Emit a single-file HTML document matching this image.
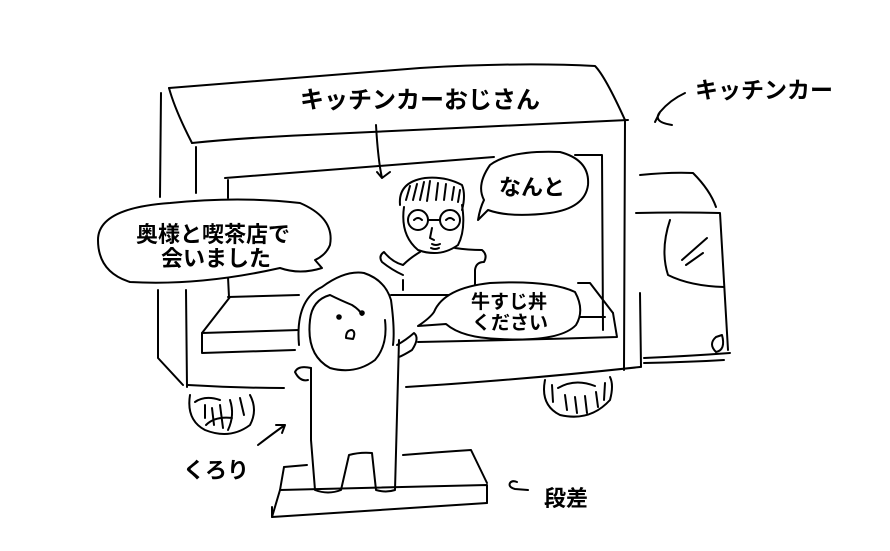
<!DOCTYPE html>
<html><head><meta charset="utf-8"><style>
html,body{margin:0;padding:0;background:#fff}
svg{display:block}
text{font-family:"Liberation Sans","Noto Sans CJK JP",sans-serif;font-weight:bold;fill:#000}
</style></head><body>
<svg width="890" height="551" viewBox="0 0 890 551" xmlns="http://www.w3.org/2000/svg">
<g fill="none" stroke="#000" stroke-width="2" stroke-linecap="round" stroke-linejoin="round">
<!-- roof -->
<path d="M169 88 Q300 78 420 68 Q520 62 595 66 Q605 76 625 120"/>
<path d="M169 88 Q175 110 192 143"/>
<path d="M192 143 Q240 138 307 135 Q470 127 628 120"/>
<!-- left verticals -->
<path d="M161 93 L160 197"/>
<path d="M158 290 L158 358 L183 385"/>
<path d="M196 147 L196 193"/>
<path d="M186 290 L187 387"/>
<!-- bottom -->
<path d="M188 385 Q240 388 284 388"/>
<path d="M406 387 Q520 380 640 367"/>
<path d="M625 120 L624 370"/>
<!-- inner window -->
<path d="M225 178 Q360 168 494 157"/>
<path d="M575 155 L602 155 L603 330"/>
<path d="M228 180 L228 198"/>
<path d="M228 277 L229 297"/>
<!-- counter -->
<path d="M228 297 L299 295"/>
<path d="M391 295 L449 295"/>
<path d="M230 297 L202 333 L299 330"/>
<path d="M418 342 Q520 340 617 337 L613 313"/>
<path d="M578 283 L590 283 L613 313"/>
<path d="M579 317 L605 317"/>
<path d="M202 333 L202 353 L295 350"/>
<!-- cab -->
<path d="M640 175 Q670 172 693 173 Q710 190 716 207"/>
<path d="M636 213 Q680 212 720 213 Q724 280 728 350"/>
<path d="M716 337 Q708 344 716 352 Q726 350 722 335 Z"/>
<path d="M644 358 Q690 356 730 353"/>
<path d="M644 363 Q690 362 724 360"/>
<path d="M640 293 L641 367"/>
<path d="M670 220 Q660 250 668 275 Q690 286 724 287"/>
<path d="M682 260 L707 238"/>
<path d="M686 265 L703 253"/>
<!-- wheels -->
<path d="M190 395 Q186 420 205 430 Q230 440 250 425 Q258 410 250 395"/>
<path d="M195 402 Q205 395 220 400 M205 405 L205 418 M212 408 L214 425 M220 405 L223 428 M230 400 Q235 415 228 430 M240 398 L244 415 M206 425 Q215 416 232 418"/>
<path d="M545 380 Q540 405 560 415 Q590 422 610 400 Q614 385 610 377"/>
<path d="M558 388 Q575 378 595 386 M552 385 L553 402 M565 395 L567 410 M575 397 L577 413 M585 396 L587 413 M596 392 L598 407 M605 383 L604 400"/>
<!-- man -->
<path d="M400 205 Q398 182 425 178 Q445 176 462 185 Q466 195 462 210"/>
<path d="M406 200 L410 186 M413 200 L417 184 M420 200 L424 182 M427 201 L430 181 M436 200 L438 183 M444 200 L446 184 M452 200 L454 187 M458 202 L460 190"/>
<path d="M404 207 Q400 235 418 250 Q440 258 458 245 Q466 230 462 205"/>
<circle cx="418" cy="220" r="10"/>
<circle cx="450" cy="220" r="10"/>
<path d="M428 220 L440 220"/>
<path d="M414 220 Q418 216 422 220 M446 220 Q450 216 454 220"/>
<path d="M432 228 L430 238 L434 240 M432 244 Q436 246 440 244 M431 248 Q435 250 439 248"/>
<path d="M420 252 Q410 258 403 265 Q392 262 384 252 Q378 256 382 262 Q392 270 403 275"/>
<path d="M403 280 L403 290"/>
<path d="M455 248 Q468 250 482 250 Q488 255 484 262 Q476 262 475 270 L475 290"/>
<!-- girl -->
<path fill="#fff" d="M311 368 L311 440 L315 490 Q328 495 341 490 L349 455 Q360 452 372 453 L376 490 Q386 493 395 490 L399 340 L393 345 Z" stroke="none"/>
<path fill="#fff" d="M299 345 Q295 300 322 287 Q345 270 364 273 Q385 280 391 300 Q395 330 393 345 Q380 370 330 368 Q305 360 299 345 Z" stroke="none"/>
<path d="M299 345 Q295 300 322 287 Q345 270 364 273 Q385 280 391 300 Q395 330 393 345"/>
<path d="M310 320 Q312 300 330 295 Q340 300 352 305 Q360 310 362 315"/>
<path d="M310 320 Q306 355 330 368 Q355 375 375 360 Q388 345 385 320"/>
<circle cx="339" cy="317" r="1.8" fill="#000"/>
<circle cx="362" cy="313" r="1.8" fill="#000"/>
<path d="M346 338 Q346 330 352 330 Q356 332 353 339 Z"/>
<path d="M311 368 L311 440 L315 490 Q328 495 341 490 L349 455 Q360 452 372 453 L376 490 Q386 493 395 490 L399 340"/>
<path d="M311 368 Q298 365 295 372 Q300 382 308 380"/>
<path d="M397 345 Q406 340 414 333 Q420 338 412 350 Q404 355 399 357"/>
<!-- step -->
<path d="M284 467 L307 465"/>
<path d="M403 455 Q440 452 471 450 L487 483"/>
<path d="M284 467 L280 490 Q380 488 487 485 L487 503"/>
<path d="M280 490 L272 517 Q380 510 487 503"/>
<path d="M272 507 L272 517"/>
<!-- bubbles -->
<path fill="#fff" d="M98 240 Q98 208 170 203 Q240 196 300 203 Q335 218 330 245 Q326 255 315 260 L322 268 Q300 275 280 268 Q200 286 130 282 Q98 272 98 240 Z"/>
<path fill="#fff" d="M490 165 Q510 150 560 152 Q590 160 588 185 Q585 208 550 213 Q510 218 488 210 L478 220 Q480 208 484 200 Q476 185 490 165 Z"/>
<path fill="#fff" d="M434 312 Q444 288 490 283 Q550 280 575 292 Q585 310 576 325 Q560 342 500 339 Q462 338 446 324 L418 326 Q430 318 434 312 Z"/>
<!-- arrows -->
<path d="M376 125 Q378 160 382 178 L377 172 M382 178 L390 172"/>
<path d="M685 93 Q670 100 660 112 Q652 122 672 125 M660 112 L655 122"/>
<path d="M258 445 Q275 432 285 425 M285 425 L276 425 M285 425 L282 433"/>
<path d="M528 490 L515 489 Q508 487 510 483 Q512 480 517 482"/>
</g>
<text x="420" y="108" font-size="24" text-anchor="middle">キッチンカーおじさん</text>
<text x="695" y="98" font-size="23">キッチンカー</text>
<text x="213" y="242" font-size="22" text-anchor="middle">奥様と喫茶店で</text>
<text x="216" y="266" font-size="22" text-anchor="middle">会いました</text>
<text x="532" y="195" font-size="22" text-anchor="middle">なんと</text>
<text x="509" y="308" font-size="19" text-anchor="middle">牛すじ丼</text>
<text x="510" y="329" font-size="19" text-anchor="middle">ください</text>
<text x="183" y="478" font-size="22">くろり</text>
<text x="544" y="506" font-size="22">段差</text>
</svg>
</body></html>
